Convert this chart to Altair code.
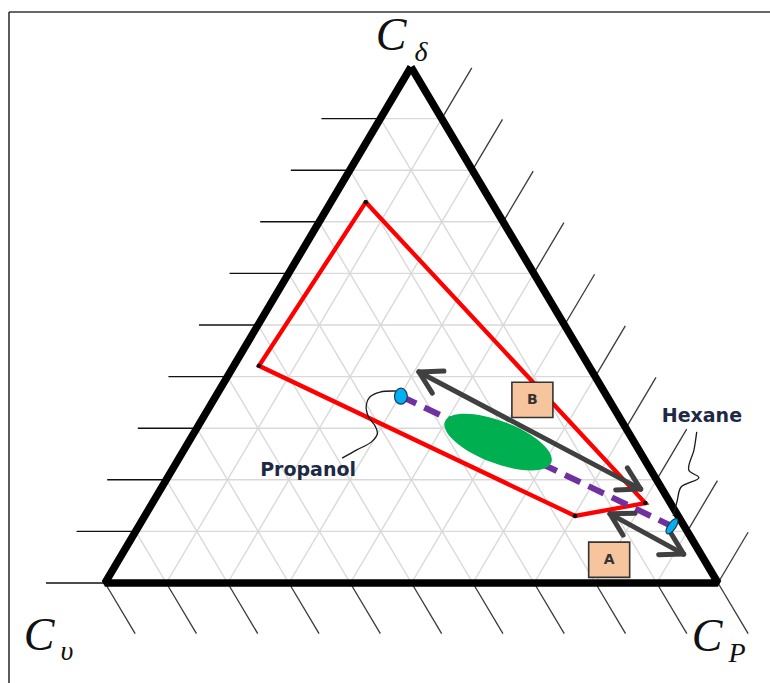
import math
import altair as alt
import pandas as pd

# ---------------------------------------------------------------------------
# Ternary data, given as fractions (C_delta, C_upsilon, C_P) summing to 1
# ---------------------------------------------------------------------------
region_cd = [0.738, 0.421, 0.130, 0.155]
region_cv = [0.205, 0.538, 0.168, 0.041]
region_cp = [0.057, 0.041, 0.702, 0.804]

solvent_names = ["Propanol", "Hexane"]
solvent_cd = [0.362, 0.110]
solvent_cv = [0.336, 0.020]
solvent_cp = [0.302, 0.870]

blend_cd, blend_cv, blend_cp = 0.273, 0.222, 0.505

arrow_names = ["B", "A"]
arrow_from_cd = [0.409, 0.134]
arrow_from_cv = [0.283, 0.109]
arrow_from_cp = [0.308, 0.757]
arrow_to_cd = [0.182, 0.056]
arrow_to_cv = [0.035, 0.028]
arrow_to_cp = [0.783, 0.916]

box_labels = ["B", "A"]
box_cd = [0.355, 0.045]
box_cv = [0.125, 0.155]
box_cp = [0.520, 0.800]

label_names = ["Propanol", "Hexane"]
label_cd = [0.219, 0.324]
label_cv = [0.559, -0.136]
label_cp = [0.222, 0.812]

propanol_link_cd = [0.372, 0.370, 0.360, 0.345, 0.322, 0.304, 0.289, 0.273, 0.258, 0.242]
propanol_link_cv = [0.337, 0.366, 0.388, 0.401, 0.409, 0.407, 0.411, 0.429, 0.460, 0.492]
propanol_link_cp = [0.291, 0.264, 0.252, 0.254, 0.269, 0.289, 0.300, 0.298, 0.282, 0.266]

hexane_link_cd = [0.293, 0.258, 0.219, 0.204, 0.186, 0.159, 0.130]
hexane_link_cv = [-0.112, -0.090, -0.062, -0.071, -0.033, -0.013, 0.008]
hexane_link_cp = [0.819, 0.832, 0.843, 0.867, 0.847, 0.854, 0.862]

divisions = 10

# ---------------------------------------------------------------------------
# Layout of the triangle on the canvas
# ---------------------------------------------------------------------------
W, H = 770, 683
APEX = (411.0, 67.0)     # C_delta corner
LEFT = (105.0, 583.0)    # C_upsilon corner
RIGHT = (718.0, 583.0)   # C_P corner


def to_xy(cd, cv, cp):
    x = cd * APEX[0] + cv * LEFT[0] + cp * RIGHT[0]
    y = cd * APEX[1] + cv * LEFT[1] + cp * RIGHT[1]
    return x, y


def unit(dx, dy):
    n = math.hypot(dx, dy)
    return dx / n, dy / n


xs = alt.Scale(domain=[0, W], nice=False, zero=False)
ys = alt.Scale(domain=[0, H], nice=False, zero=False, reverse=True)


def X(f="x"):
    return alt.X(f"{f}:Q", scale=xs, axis=None)


def Y(f="y"):
    return alt.Y(f"{f}:Q", scale=ys, axis=None)


def segments(rows, **style):
    df = pd.DataFrame(rows, columns=["x", "y", "x2", "y2"])
    return alt.Chart(df).mark_rule(**style).encode(
        x=X(), y=Y(), x2="x2:Q", y2="y2:Q"
    )


# --- grid lines (three families) ------------------------------------------
grid_rows = []
for k in range(1, divisions):
    f = k / divisions
    grid_rows.append((*to_xy(f, 1 - f, 0), *to_xy(f, 0, 1 - f)))
    grid_rows.append((*to_xy(1 - f, f, 0), *to_xy(0, f, 1 - f)))
    grid_rows.append((*to_xy(1 - f, 0, f), *to_xy(0, 1 - f, f)))
grid = segments(grid_rows, color="#d9d9d9", strokeWidth=1.4)

# --- ticks on the three sides ---------------------------------------------
TICK = 59
left_rows, right_rows, bottom_rows = [], [], []
up_right = unit(APEX[0] - LEFT[0], APEX[1] - LEFT[1])
down_right = unit(RIGHT[0] - APEX[0], RIGHT[1] - APEX[1])
for k in range(divisions):
    f = k / divisions
    lx, ly = to_xy(f, 1 - f, 0)
    left_rows.append((lx, ly, lx - TICK, ly))
    rx, ry = to_xy(f, 0, 1 - f)
    right_rows.append((rx, ry, rx + TICK * up_right[0], ry + TICK * up_right[1]))
for k in range(divisions + 1):
    f = k / divisions
    bx, by = to_xy(0, 1 - f, f)
    bottom_rows.append((bx, by, bx + TICK * down_right[0], by + TICK * down_right[1]))
left_ticks = segments(left_rows, color="#111111", strokeWidth=1.4)
other_ticks = segments(right_rows + bottom_rows, color="#3a3a3a", strokeWidth=1.3)

# --- triangle outline -------------------------------------------------------
corners = [(1, 0, 0), (0, 1, 0), (0, 0, 1), (1, 0, 0)]
outline_df = pd.DataFrame(
    [dict(zip(("x", "y"), to_xy(*c)), i=i) for i, c in enumerate(corners)]
)
outline = alt.Chart(outline_df).mark_line(
    color="black", strokeWidth=7.5, strokeJoin="bevel"
).encode(x=X(), y=Y(), order="i:Q")

# --- outer frame --------------------------------------------------------------
frame = alt.layer(
    alt.Chart(pd.DataFrame({"v": [0]})).mark_rule(color="#333333", strokeWidth=1.6).encode(
        x=alt.value(9), y=alt.value(12), y2=alt.value(H)
    ),
    alt.Chart(pd.DataFrame({"v": [0]})).mark_rule(color="#333333", strokeWidth=1.6).encode(
        x=alt.value(9), x2=alt.value(W), y=alt.value(12)
    ),
)

# --- red region ---------------------------------------------------------------
reg_pts = [to_xy(a, b, c) for a, b, c in zip(region_cd, region_cv, region_cp)]
reg_df = pd.DataFrame(
    [{"x": p[0], "y": p[1], "i": i} for i, p in enumerate(reg_pts + reg_pts[:1])]
)
region = alt.Chart(reg_df).mark_line(color="#ff0000", strokeWidth=4.3).encode(
    x=X(), y=Y(), order="i:Q"
)
region_dots = alt.Chart(reg_df.iloc[:-1]).mark_circle(color="#111111", size=22, opacity=1).encode(
    x=X(), y=Y()
)

# --- propanol-hexane dilution line -------------------------------------------
sol_pts = [to_xy(a, b, c) for a, b, c in zip(solvent_cd, solvent_cv, solvent_cp)]
sol_df = pd.DataFrame(
    [{"x": p[0], "y": p[1], "name": n, "i": i} for i, (p, n) in enumerate(zip(sol_pts, solvent_names))]
)
dilution = alt.Chart(sol_df).mark_line(
    color="#7030a0", strokeWidth=6, strokeDash=[17, 9]
).encode(x=X(), y=Y(), order="i:Q")

# --- green blend zone -----------------------------------------------------------
bx, by = to_xy(blend_cd, blend_cv, blend_cp)
ellipse_path = "M -1 0 A 1 0.37 0 1 0 1 0 A 1 0.37 0 1 0 -1 0 Z"
blend = alt.Chart(pd.DataFrame({"x": [bx], "y": [by]})).mark_point(
    shape=ellipse_path, size=114 ** 2, filled=True, fill="#00b050",
    opacity=1, strokeWidth=0, angle=21
).encode(x=X(), y=Y())

# --- double-headed arrows -----------------------------------------------------------
HEAD, SPREAD = 25, math.radians(30)
shaft_rows, head_rows = [], []
for i in range(len(arrow_names)):
    p0 = to_xy(arrow_from_cd[i], arrow_from_cv[i], arrow_from_cp[i])
    p1 = to_xy(arrow_to_cd[i], arrow_to_cv[i], arrow_to_cp[i])
    shaft_rows.append((*p0, *p1))
    for tip, other in ((p0, p1), (p1, p0)):
        ang = math.atan2(other[1] - tip[1], other[0] - tip[0])
        for s in (-SPREAD, SPREAD):
            head_rows.append((tip[0], tip[1],
                              tip[0] + HEAD * math.cos(ang + s),
                              tip[1] + HEAD * math.sin(ang + s)))
arrows = segments(shaft_rows + head_rows, color="#404040", strokeWidth=5, strokeCap="round")

# --- callout curves ---------------------------------------------------------------
def curve(cds, cvs, cps):
    pts = [to_xy(a, b, c) for a, b, c in zip(cds, cvs, cps)]
    df = pd.DataFrame([{"x": p[0], "y": p[1], "i": i} for i, p in enumerate(pts)])
    return alt.Chart(df).mark_line(
        color="#1a1a1a", strokeWidth=1.3, interpolate="catmull-rom"
    ).encode(x=X(), y=Y(), order="i:Q")


links = curve(propanol_link_cd, propanol_link_cv, propanol_link_cp) + curve(
    hexane_link_cd, hexane_link_cv, hexane_link_cp
)

# --- solvent markers -------------------------------------------------------------------
propanol_marker = alt.Chart(sol_df.iloc[[0]]).mark_point(
    shape="M 0 -1 A 0.8 1 0 1 0 0 1 A 0.8 1 0 1 0 0 -1 Z", size=16 ** 2,
    filled=True, fill="#00b0f0", stroke="#1f3a5a", strokeWidth=1.2, opacity=1
).encode(x=X(), y=Y())
hexane_marker = alt.Chart(sol_df.iloc[[1]]).mark_point(
    shape="M 0 -1 A 0.42 1 0 1 0 0 1 A 0.42 1 0 1 0 0 -1 Z", size=18 ** 2,
    filled=True, fill="#00b0f0", stroke="#1f3a5a", strokeWidth=1.2, opacity=1, angle=35
).encode(x=X(), y=Y())

# --- labelled boxes A / B ------------------------------------------------------------
box_pts = [to_xy(a, b, c) for a, b, c in zip(box_cd, box_cv, box_cp)]
box_df = pd.DataFrame([{"x": p[0], "y": p[1], "t": t} for p, t in zip(box_pts, box_labels)])
boxes = alt.Chart(box_df).mark_point(
    shape="M -1 -0.86 L 1 -0.86 L 1 0.86 L -1 0.86 Z", size=41 ** 2, filled=True,
    fill="#f7c59d", stroke="#333333", strokeWidth=1.6, opacity=1
).encode(x=X(), y=Y())
box_text = alt.Chart(box_df).mark_text(
    font="DejaVu Sans", fontWeight="bold", fontSize=14, color="#333333",
    align="center", baseline="middle"
).encode(x=X(), y=Y(), text="t:N")

# --- solvent names -----------------------------------------------------------------------
lab_pts = [to_xy(a, b, c) for a, b, c in zip(label_cd, label_cv, label_cp)]
lab_df = pd.DataFrame([{"x": p[0], "y": p[1], "t": t} for p, t in zip(lab_pts, label_names)])
names = alt.Chart(lab_df).mark_text(
    font="DejaVu Sans", fontWeight="bold", fontSize=19, color="#1e2a44",
    align="center", baseline="middle"
).encode(x=X(), y=Y(), text="t:N")

# --- corner titles -----------------------------------------------------------------------
def corner(main, sub, x, y, sx, sy):
    d = pd.DataFrame({"v": [0]})
    big = alt.Chart(d).mark_text(
        text=main, font="Liberation Serif", fontStyle="italic", fontSize=46,
        color="#111111", align="center", baseline="alphabetic"
    ).encode(x=alt.value(x), y=alt.value(y))
    small = alt.Chart(d).mark_text(
        text=sub, font="Liberation Serif", fontStyle="italic", fontSize=28,
        color="#111111", align="center", baseline="alphabetic"
    ).encode(x=alt.value(sx), y=alt.value(sy))
    return big + small


titles = (
    corner("C", "δ", 391, 50, 421, 61)
    + corner("C", "υ", 39, 650, 67, 660)
    + corner("C", "P", 707, 651, 737, 662)
)

chart = alt.layer(
    frame,
    grid,
    left_ticks,
    other_ticks,
    outline,
    region,
    region_dots,
    dilution,
    blend,
    links,
    arrows,
    propanol_marker,
    hexane_marker,
    boxes,
    box_text,
    names,
    titles,
).properties(
    width=W, height=H, autosize="none", padding=0, background="white"
).configure_view(stroke=None)

chart.save("out.html", embed_options={"renderer": "svg", "actions": False})
